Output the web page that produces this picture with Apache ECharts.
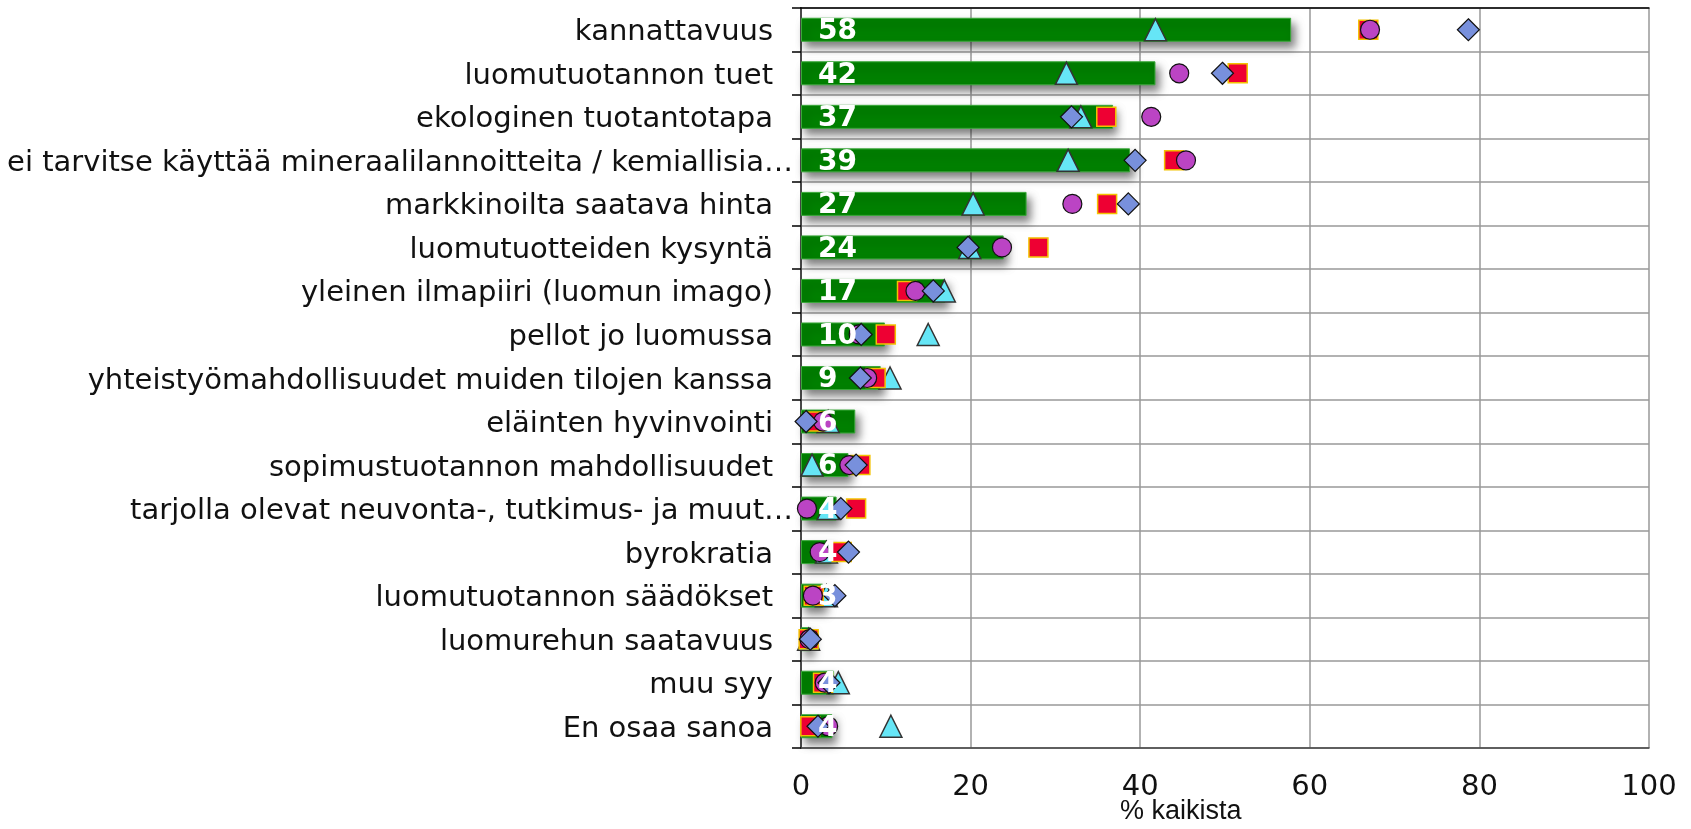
<!DOCTYPE html>
<html>
<head>
<meta charset="utf-8">
<script src="https://cdn.jsdelivr.net/npm/echarts@6/dist/echarts.min.js"></script>
<style>
  html, body { margin: 0; padding: 0; background: #fff; }
  #main { width: 1691px; height: 829px; }
</style>
</head>
<body>
<div id="main"></div>
<script>
// Syyt luomutuotantoon, % kaikista vastaajista
const categories = [
  'kannattavuus',
  'luomutuotannon tuet',
  'ekologinen tuotantotapa',
  'ei tarvitse käyttää mineraalilannoitteita / kemiallisia…',
  'markkinoilta saatava hinta',
  'luomutuotteiden kysyntä',
  'yleinen ilmapiiri (luomun imago)',
  'pellot jo luomussa',
  'yhteistyömahdollisuudet muiden tilojen kanssa',
  'eläinten hyvinvointi',
  'sopimustuotannon mahdollisuudet',
  'tarjolla olevat neuvonta-, tutkimus- ja muut…',
  'byrokratia',
  'luomutuotannon säädökset',
  'luomurehun saatavuus',
  'muu syy',
  'En osaa sanoa'
];

// kaikki vastaajat (palkit)
const totalValues = [57.8, 41.8, 36.8, 38.8, 26.6, 23.9, 17.0, 9.9, 9.4, 6.4, 5.6, 4.2, 3.6, 2.6, 1.1, 3.9, 3.7];
// vastaajaryhmät (merkit)
const triangleValues = [41.8, 31.3, 33.0, 31.5, 20.3, 19.9, 16.9, 15.0, 10.5, 3.2, 1.3, 3.2, 3.0, 3.0, 0.9, 4.4, 10.6];
const squareValues   = [66.9, 51.5, 36.0, 44.0, 36.1, 28.0, 12.5, 10.0, 8.8, 1.6, 7.0, 6.5, 4.8, 1.5, 0.9, 2.6, 1.1];
const circleValues   = [67.1, 44.6, 41.3, 45.4, 32.0, 23.7, 13.5, 6.8, 7.8, 2.6, 5.7, 0.7, 2.2, 1.4, 1.0, 2.8, 3.2];
const diamondValues  = [78.7, 49.7, 31.9, 39.4, 38.6, 19.7, 15.6, 7.1, 7.0, 0.6, 6.5, 4.7, 5.6, 4.0, 1.1, 3.3, 2.0];

const xTicks = [0, 20, 40, 60, 80, 100];
const xTitle = '% kaikista';

// katkaistut pitkät nimet ulottuvat akselin merkkiviivoihin asti
const longLabels = new Set([categories[3], categories[11]]);

function points(vals) {
  return vals.map((v, i) => [v, categories[i]]);
}

function markerSeries(name, vals, symbol, size, color, border, borderWidth, z) {
  return {
    name: name,
    type: 'scatter',
    data: points(vals),
    symbol: symbol,
    symbolSize: size,
    z: z,
    itemStyle: { color: color, borderColor: border, borderWidth: borderWidth, opacity: 1 },
    silent: true
  };
}

const chart = echarts.init(document.getElementById('main'), null, { renderer: 'canvas' });

chart.setOption({
  animation: false,
  backgroundColor: '#ffffff',
  grid: { left: 801, right: 42, top: 8, bottom: 81, containLabel: false },
  xAxis: [{
    type: 'value',
    min: xTicks[0],
    max: xTicks[xTicks.length - 1],
    interval: 20,
    axisLine: { show: true, lineStyle: { color: '#444', width: 1.5 } },
    axisTick: { show: false },
    splitLine: { show: true, lineStyle: { color: '#999', width: 1.5 } },
    axisLabel: { fontFamily: 'DejaVu Sans', fontSize: 29, color: '#111', margin: 25 }
  }, {
    type: 'value',
    position: 'top',
    min: xTicks[0],
    max: xTicks[xTicks.length - 1],
    axisLine: { show: true, lineStyle: { color: '#000', width: 1.5 } },
    axisTick: { show: false },
    axisLabel: { show: false },
    splitLine: { show: false }
  }],
  yAxis: [{
    type: 'category',
    data: categories,
    inverse: true,
    axisLine: { show: true, lineStyle: { color: '#000', width: 1.5 } },
    axisTick: { show: true, length: 9, interval: 0, lineStyle: { color: '#000', width: 1.5 } },
    splitLine: { show: true, interval: 0, lineStyle: { color: '#999', width: 1.5 } },
    axisLabel: {
      interval: 0,
      margin: 6,
      formatter: (v) => longLabels.has(v) ? '{c|' + v + '}' : '{n|' + v + '}',
      rich: {
        n: { fontFamily: 'DejaVu Sans', fontSize: 29, color: '#111', padding: [6, 22, 0, 0] },
        c: { fontFamily: 'DejaVu Sans', fontSize: 29, color: '#111', padding: [6, 2, 0, 0] }
      }
    }
  }, {
    type: 'category',
    data: categories,
    inverse: true,
    position: 'right',
    axisLine: { show: true, lineStyle: { color: '#555', width: 1.5 } },
    axisTick: { show: false },
    axisLabel: { show: false },
    splitLine: { show: false }
  }],
  graphic: [{
    type: 'text',
    left: 1120,
    top: 798,
    style: { text: xTitle, font: '27px "Liberation Sans", Arial, sans-serif', fill: '#111' }
  }],
  series: [
    {
      name: 'kaikki',
      type: 'bar',
      data: totalValues,
      barWidth: 24,
      barGap: '-100%',
      z: 1,
      silent: true,
      itemStyle: {
        color: '#008000',
        borderColor: '#3aa83a',
        borderWidth: 1,
        shadowBlur: 8,
        shadowColor: 'rgba(0,0,0,0.5)',
        shadowOffsetX: 4,
        shadowOffsetY: 6
      }
    },
    markerSeries('ryhmä A', triangleValues, 'triangle', 22, '#66e6f6', '#333', 1.5, 2),
    markerSeries('ryhmä B', squareValues, 'rect', 19, '#ee0033', '#f2c200', 1.5, 3),
    markerSeries('ryhmä C', circleValues, 'circle', 19, '#bb44c4', '#111', 1.2, 4),
    markerSeries('ryhmä D', diamondValues, 'diamond', 22, '#7890dc', '#111', 1.2, 5),
    {
      // arvotekstit palkkien päällä
      name: 'arvot',
      type: 'bar',
      data: totalValues,
      barWidth: 24,
      barGap: '-100%',
      z: 10,
      silent: true,
      itemStyle: { color: 'rgba(0,0,0,0)' },
      label: {
        show: true,
        position: 'insideLeft',
        distance: 17,
        fontFamily: 'DejaVu Sans',
        fontWeight: 'bold',
        fontSize: 28,
        color: '#fff',
        offset: [0, 2],
        formatter: (p) => p.value >= 1.5 ? String(Math.round(p.value)) : ''
      }
    }
  ]
});
</script>
</body>
</html>
